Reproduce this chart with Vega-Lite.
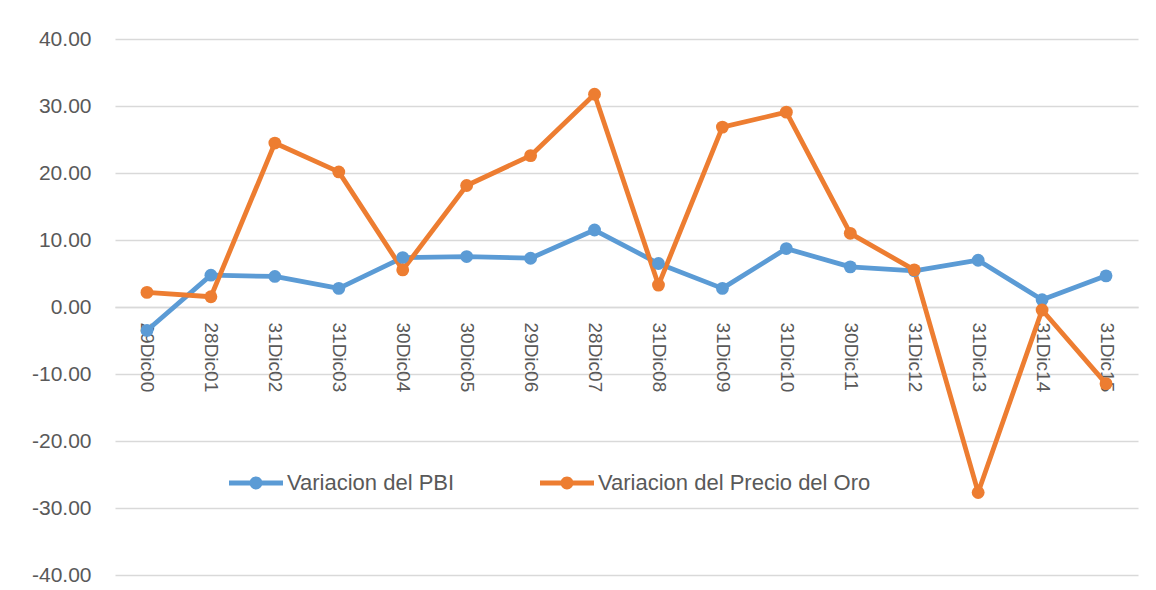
{
  "$schema": "https://vega.github.io/schema/vega-lite/v6.json",
  "width": 1023,
  "height": 536,
  "autosize": {"type": "none"},
  "padding": {"left": 115, "top": 39, "right": 18, "bottom": 15},
  "background": "white",
  "config": {
    "view": {"stroke": null},
    "font": "Liberation Sans"
  },
  "data": {
    "values": [
      {"fecha": "29Dic00", "serie": "Variacion del PBI", "valor": -3.5},
      {"fecha": "28Dic01", "serie": "Variacion del PBI", "valor": 4.75},
      {"fecha": "31Dic02", "serie": "Variacion del PBI", "valor": 4.56},
      {"fecha": "31Dic03", "serie": "Variacion del PBI", "valor": 2.78},
      {"fecha": "30Dic04", "serie": "Variacion del PBI", "valor": 7.38},
      {"fecha": "30Dic05", "serie": "Variacion del PBI", "valor": 7.53},
      {"fecha": "29Dic06", "serie": "Variacion del PBI", "valor": 7.28},
      {"fecha": "28Dic07", "serie": "Variacion del PBI", "valor": 11.49},
      {"fecha": "31Dic08", "serie": "Variacion del PBI", "valor": 6.49},
      {"fecha": "31Dic09", "serie": "Variacion del PBI", "valor": 2.78},
      {"fecha": "31Dic10", "serie": "Variacion del PBI", "valor": 8.72},
      {"fecha": "30Dic11", "serie": "Variacion del PBI", "valor": 5.99},
      {"fecha": "31Dic12", "serie": "Variacion del PBI", "valor": 5.4},
      {"fecha": "31Dic13", "serie": "Variacion del PBI", "valor": 6.98},
      {"fecha": "31Dic14", "serie": "Variacion del PBI", "valor": 1.09},
      {"fecha": "31Dic15", "serie": "Variacion del PBI", "valor": 4.65},
      {"fecha": "29Dic00", "serie": "Variacion del Precio del Oro", "valor": 2.18},
      {"fecha": "28Dic01", "serie": "Variacion del Precio del Oro", "valor": 1.53},
      {"fecha": "31Dic02", "serie": "Variacion del Precio del Oro", "valor": 24.47},
      {"fecha": "31Dic03", "serie": "Variacion del Precio del Oro", "valor": 20.16},
      {"fecha": "30Dic04", "serie": "Variacion del Precio del Oro", "valor": 5.54},
      {"fecha": "30Dic05", "serie": "Variacion del Precio del Oro", "valor": 18.13},
      {"fecha": "29Dic06", "serie": "Variacion del Precio del Oro", "valor": 22.59},
      {"fecha": "28Dic07", "serie": "Variacion del Precio del Oro", "valor": 31.75},
      {"fecha": "31Dic08", "serie": "Variacion del Precio del Oro", "valor": 3.27},
      {"fecha": "31Dic09", "serie": "Variacion del Precio del Oro", "valor": 26.85},
      {"fecha": "31Dic10", "serie": "Variacion del Precio del Oro", "valor": 29.08},
      {"fecha": "30Dic11", "serie": "Variacion del Precio del Oro", "valor": 11.0},
      {"fecha": "31Dic12", "serie": "Variacion del Precio del Oro", "valor": 5.54},
      {"fecha": "31Dic13", "serie": "Variacion del Precio del Oro", "valor": -27.68},
      {"fecha": "31Dic14", "serie": "Variacion del Precio del Oro", "valor": -0.45},
      {"fecha": "31Dic15", "serie": "Variacion del Precio del Oro", "valor": -11.44}
    ]
  },
  "encoding": {
    "x": {
      "field": "fecha",
      "type": "ordinal",
      "sort": null,
      "scale": {"type": "point", "padding": 0.5},
      "axis": {
        "title": null,
        "offset": -268,
        "labelAngle": 90,
        "labelAlign": "left",
        "labelBaseline": "middle",
        "labelPadding": 15,
        "labelFontSize": 19,
        "labelColor": "#595959",
        "labelFont": "Liberation Sans",
        "ticks": false,
        "domain": true,
        "domainColor": "#d9d9d9",
        "domainWidth": 1.3,
        "grid": false
      }
    },
    "y": {
      "field": "valor",
      "type": "quantitative",
      "scale": {"domain": [-40, 40], "nice": false, "zero": false},
      "axis": {
        "title": null,
        "values": [-40, -30, -20, -10, 0, 10, 20, 30, 40],
        "labelExpr": "replace(format(datum.value, '.2f'), '\u2212', '-')",
        "labelFontSize": 21,
        "labelColor": "#595959",
        "labelFont": "Liberation Sans",
        "labelPadding": 24,
        "ticks": false,
        "domain": false,
        "grid": true,
        "gridColor": "#d9d9d9",
        "gridWidth": 1.3
      }
    },
    "color": {
      "field": "serie",
      "type": "nominal",
      "sort": ["Variacion del PBI", "Variacion del Precio del Oro"],
      "scale": {"domain": ["Variacion del PBI", "Variacion del Precio del Oro"], "range": ["#5B9BD5", "#ED7D31"]},
      "legend": {
        "title": null,
        "orient": "none",
        "direction": "horizontal",
        "legendX": 114,
        "legendY": 417,
        "padding": 0,
        "symbolType": "M-1,-0.09L1,-0.09L1,0.09L-1,0.09Z M-0.24,0A0.24,0.24,0,1,1,0.24,0A0.24,0.24,0,1,1,-0.24,0Z",
        "symbolSize": 2916,
        "symbolStrokeWidth": 0,
        "symbolOpacity": 1,
        "labelFontSize": 22,
        "labelColor": "#595959",
        "labelFont": "Liberation Sans",
        "labelOffset": 4,
        "labelLimit": 400,
        "columnPadding": 85
      }
    }
  },
  "layer": [
    {
      "mark": {"type": "line", "strokeWidth": 4.8, "strokeJoin": "round"}
    },
    {
      "mark": {"type": "point", "filled": true, "size": 165, "opacity": 1}
    }
  ]
}
